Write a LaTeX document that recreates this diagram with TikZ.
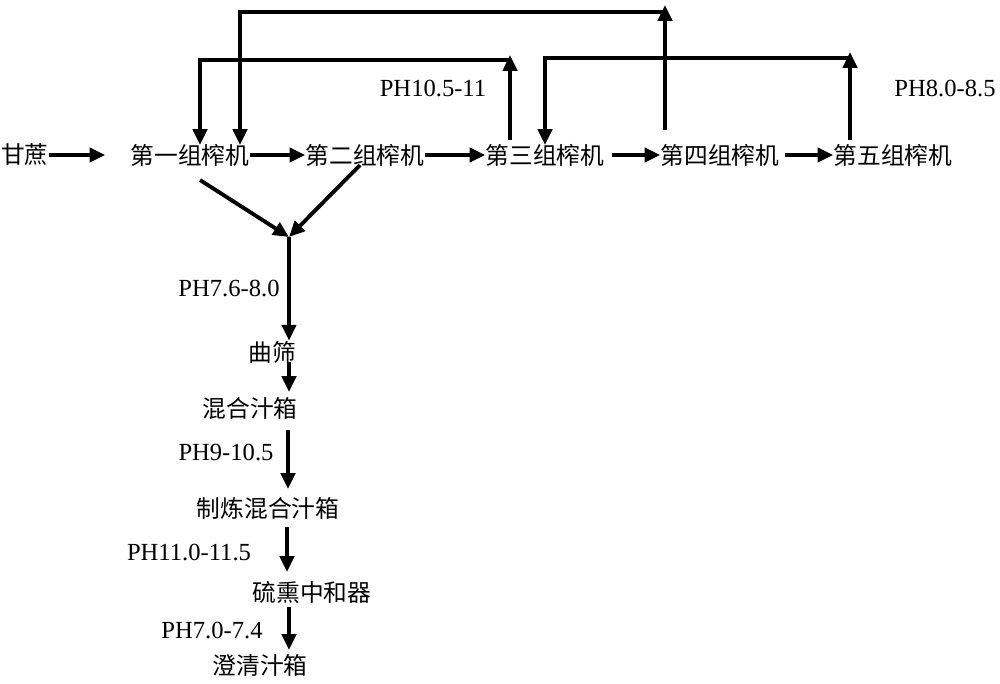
\documentclass[tikz,border=0pt]{standalone}
\usepackage{fontspec}
\setmainfont{Liberation Serif}
\newfontfamily\cjk{Noto Sans CJK SC}
\usetikzlibrary{arrows.meta}
\tikzset{
  flow/.style={line width=2.2pt,-{Triangle[length=9pt,width=8pt]}},
  lab/.style={inner sep=0pt,font=\cjk\fontsize{13.5}{16}\selectfont},
  phlab/.style={inner sep=0pt,font=\fontsize{14}{16}\selectfont}
}
\begin{document}
\begin{tikzpicture}[x=0.02cm,y=-0.02cm]
\useasboundingbox (0,0) rectangle (1000,683);
% main row
\node[lab] (cane) at (25,155) {甘蔗};
\node[lab] (m1) at (190,155) {第一组榨机};
\node[lab] (m2) at (365,155) {第二组榨机};
\node[lab] (m3) at (545,155) {第三组榨机};
\node[lab] (m4) at (720,155) {第四组榨机};
\node[lab] (m5) at (893,155) {第五组榨机};
\draw[flow,shorten >=0.5cm] (cane.east) -- (m1.west);
\draw[flow] (m1.east) -- (m2.west);
\draw[flow] (m2.east) -- (m3.west);
\draw[flow,shorten <=0.15cm] (m3.east) -- (m4.west);
\draw[flow,shorten <=0.1cm] (m4.east) -- (m5.west);
% return loops
\coordinate (a1) at (510,140); \coordinate (a2) at (510,55);
\coordinate (a3) at (200,60);  \coordinate (a4) at (200,145);
\draw[flow] (a1) -- (a2);
\draw[flow] (a2 |- a3) -- (a3) -- (a4);
\coordinate (b1) at (665,130); \coordinate (b2) at (665,5);
\coordinate (b3) at (240,12);  \coordinate (b4) at (240,145);
\draw[flow] (b1) -- (b2);
\draw[flow] (b2 |- b3) -- (b3) -- (b4);
\coordinate (c1) at (850,140); \coordinate (c2) at (850,52);
\coordinate (c3) at (545,58);  \coordinate (c4) at (545,145);
\draw[flow] (c1) -- (c2);
\draw[flow] (c2 |- c3) -- (c3) -- (c4);
\node[phlab] (ph1) at (433,88) {PH10.5-11};
\node[phlab] (ph2) at (945,88) {PH8.0-8.5};
% juice line
\coordinate (j) at (289,237);
\coordinate (d1) at (200,180); \coordinate (d2) at (360,165);
\draw[flow] (d1) -- (j);
\draw[flow] (d2) -- (j);
\node[lab] (sieve) at (272,352) {曲筛};
\node[lab] (mix) at (250,408) {混合汁箱};
\node[lab] (ref) at (268,508) {制炼混合汁箱};
\node[lab] (sulf) at (312,592) {硫熏中和器};
\node[lab] (clar) at (260,665) {澄清汁箱};
\draw[flow] (j) -- (j |- sieve.north);
\draw[flow] (289,362) -- (289 ,392);
\draw[flow] (288,430) -- (288,489);
\draw[flow] (287,527) -- (287,572);
\draw[flow] (289,607) -- (289,650);
\node[phlab] (ph3) at (229,288) {PH7.6-8.0};
\node[phlab] (ph4) at (226,452) {PH9-10.5};
\node[phlab] (ph5) at (189,552) {PH11.0-11.5};
\node[phlab] (ph6) at (212,630) {PH7.0-7.4};
\end{tikzpicture}
\end{document}
